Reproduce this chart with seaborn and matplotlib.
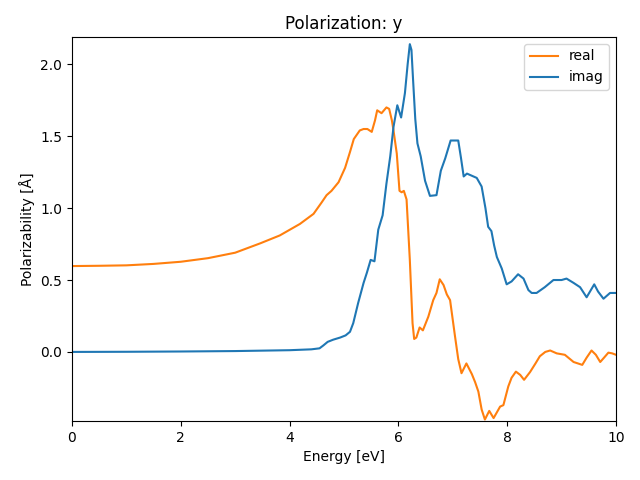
import numpy as np
import pandas as pd
import matplotlib
matplotlib.use("Agg")
import matplotlib.pyplot as plt
import seaborn as sns

# values
real_energy = [0.0, 0.5, 1.0, 1.5, 2.0, 2.5, 3.0, 3.46, 3.82, 4.19, 4.44, 4.59, 4.68,
               4.77, 4.90, 5.02, 5.11, 5.18, 5.29, 5.36, 5.43, 5.51, 5.57, 5.61, 5.69,
               5.78, 5.83, 5.88, 5.91, 5.97, 6.02, 6.06, 6.10, 6.15, 6.21, 6.26, 6.29,
               6.33, 6.39, 6.45, 6.55, 6.64, 6.70, 6.76, 6.83, 6.89, 6.95, 7.04, 7.10,
               7.16, 7.25, 7.35, 7.41, 7.47, 7.53, 7.59, 7.63, 7.67, 7.75, 7.87, 7.93,
               8.02, 8.08, 8.16, 8.24, 8.31, 8.42, 8.52, 8.60, 8.70, 8.79, 8.91, 9.06,
               9.22, 9.38, 9.46, 9.55, 9.63, 9.71, 9.78, 9.86, 9.93, 10.0]
real_vals = [0.597, 0.599, 0.602, 0.612, 0.627, 0.652, 0.69, 0.755, 0.81, 0.89, 0.96,
             1.04, 1.09, 1.12, 1.18, 1.28, 1.39, 1.48, 1.54, 1.55, 1.55, 1.53, 1.61,
             1.68, 1.66, 1.70, 1.69, 1.61, 1.54, 1.38, 1.12, 1.11, 1.12, 1.06, 0.64,
             0.20, 0.09, 0.10, 0.17, 0.15, 0.245, 0.36, 0.41, 0.505, 0.465, 0.40, 0.36,
             0.11, -0.05, -0.148, -0.08, -0.154, -0.21, -0.276, -0.40, -0.47, -0.44,
             -0.41, -0.46, -0.38, -0.37, -0.24, -0.18, -0.137, -0.16, -0.194, -0.14,
             -0.08, -0.03, 0.0, 0.01, -0.01, -0.02, -0.07, -0.09, -0.04, 0.01, -0.02,
             -0.07, -0.04, -0.005, -0.01, -0.02]

imag_energy = [0.0, 1.0, 2.0, 3.0, 4.0, 4.4, 4.55, 4.62, 4.7, 4.8, 4.93, 5.03, 5.11,
               5.17, 5.26, 5.36, 5.42, 5.49, 5.56, 5.63, 5.71, 5.78, 5.85, 5.91, 5.98,
               6.05, 6.12, 6.17, 6.21, 6.24, 6.27, 6.31, 6.35, 6.41, 6.49, 6.58, 6.70,
               6.78, 6.86, 6.96, 7.10, 7.15, 7.20, 7.26, 7.32, 7.38, 7.44, 7.53, 7.60,
               7.65, 7.71, 7.76, 7.81, 7.90, 7.99, 8.08, 8.20, 8.30, 8.39, 8.45, 8.54,
               8.69, 8.85, 9.00, 9.09, 9.22, 9.34, 9.46, 9.60, 9.67, 9.77, 9.89, 10.0]
imag_vals = [0.0, 0.001, 0.003, 0.006, 0.012, 0.018, 0.025, 0.045, 0.07, 0.085, 0.10,
             0.115, 0.14, 0.20, 0.34, 0.48, 0.55, 0.64, 0.63, 0.85, 0.95, 1.17, 1.36,
             1.565, 1.715, 1.63, 1.80, 2.00, 2.14, 2.10, 1.89, 1.62, 1.45, 1.36, 1.19,
             1.085, 1.09, 1.26, 1.345, 1.47, 1.47, 1.35, 1.22, 1.24, 1.23, 1.22, 1.21,
             1.15, 1.00, 0.87, 0.84, 0.74, 0.66, 0.58, 0.47, 0.49, 0.54, 0.51, 0.43,
             0.41, 0.41, 0.45, 0.50, 0.50, 0.51, 0.48, 0.45, 0.38, 0.47, 0.42, 0.37,
             0.41, 0.41]

df_real = pd.DataFrame({"energy": real_energy, "pol": real_vals})
df_imag = pd.DataFrame({"energy": imag_energy, "pol": imag_vals})

fig, ax = plt.subplots(figsize=(6.4, 4.8), dpi=100)
sns.lineplot(data=df_real, x="energy", y="pol", color="C1", label="real", ax=ax)
sns.lineplot(data=df_imag, x="energy", y="pol", color="C0", label="imag", ax=ax)

ax.set_xlim(0, 10)
ax.set_ylim(-0.48, 2.19)
ax.set_title("Polarization: y")
ax.set_xlabel("Energy [eV]")
ax.set_ylabel("Polarizability [Å]")
ax.legend(loc="upper right")

fig.subplots_adjust(left=0.1125, right=0.9625, top=0.923, bottom=0.123)
fig.savefig("out.png", dpi=100)
